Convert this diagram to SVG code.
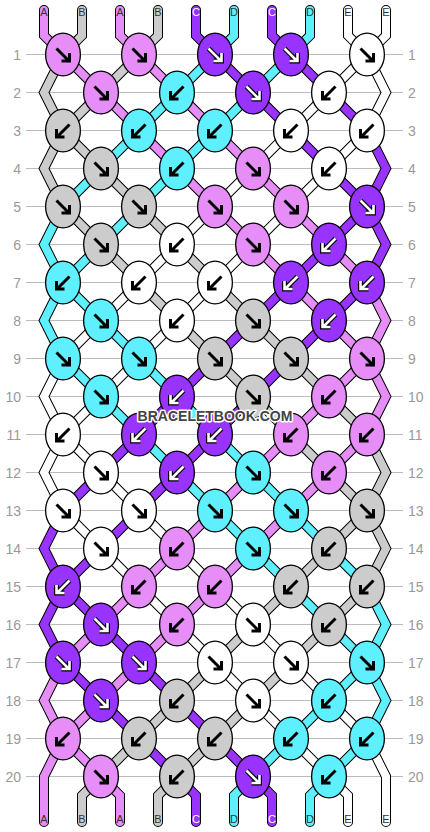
<svg xmlns="http://www.w3.org/2000/svg" xmlns:xlink="http://www.w3.org/1999/xlink" width="430" height="832" viewBox="0 0 430 832">
<style>
.grid line{stroke:#bbb;stroke-width:1}
.rl{font-family:"Liberation Sans",Arial,sans-serif;font-size:14px;fill:#999}
.rl.l{text-anchor:end}
.so,.sA,.sB,.sC,.sD,.sE{fill:none;stroke-linejoin:miter;stroke-linecap:round}
.so{stroke:#000;stroke-width:10}
.sA{stroke:#e68df7;stroke-width:8}
.sB{stroke:#cccccc;stroke-width:8}
.sC{stroke:#9933ff;stroke-width:8}
.sD{stroke:#5ef0ff;stroke-width:8}
.sE{stroke:#ffffff;stroke-width:8}
ellipse{stroke:#000;stroke-width:1.3}
.kA{fill:#e68df7}.kB{fill:#cccccc}.kC{fill:#9933ff}.kD{fill:#5ef0ff}.kE{fill:#ffffff}
.ak{fill:none;stroke:#000;stroke-width:3;stroke-linejoin:miter}
.ao{fill:none;stroke:#000;stroke-width:5;stroke-linejoin:miter}
.aw{fill:none;stroke:#fff;stroke-width:2.6;stroke-linejoin:miter}
.sl{font-family:"Liberation Sans",Arial,sans-serif;font-size:11px;text-anchor:middle;fill:#333}
.sl.w{fill:#fff}
.wm{font-family:"Liberation Sans",Arial,sans-serif;font-size:14px;font-weight:bold;text-anchor:middle;fill:#444;stroke:#fff;stroke-width:3;paint-order:stroke;stroke-linejoin:round}
</style>
<defs>
<path id="aR" d="M-6.5,-6L6,6.5M-1.5,6.5H6.5V-1.5"/>
<path id="aL" d="M6.5,-6L-6,6.5M1.5,6.5H-6.5V-1.5"/>
<g id="wR"><use href="#aR" class="ao"/><use href="#aR" class="aw"/></g>
<g id="wL"><use href="#aL" class="ao"/><use href="#aL" class="aw"/></g>
<polyline id="p0" points="44,10 44,35.5 63,54.5 101,92.5 139,130.5 177,168.5 215,206.5 253,244.5 291,282.5 329,320.5 367,358.5 386,396.5 367,434.5 329,472.5 291,510.5 253,548.5 215,586.5 177,624.5 139,662.5 101,700.5 63,738.5 44,776.5 44,822"/>
<polyline id="p1" points="82,10 82,35.5 63,54.5 44,92.5 63,130.5 101,168.5 139,206.5 177,244.5 215,282.5 253,320.5 291,358.5 329,396.5 367,434.5 386,472.5 367,510.5 329,548.5 291,586.5 253,624.5 215,662.5 177,700.5 139,738.5 101,776.5 82,795.5 82,822"/>
<polyline id="p2" points="120,10 120,35.5 139,54.5 177,92.5 215,130.5 253,168.5 291,206.5 329,244.5 367,282.5 386,320.5 367,358.5 329,396.5 291,434.5 253,472.5 215,510.5 177,548.5 139,586.5 101,624.5 63,662.5 44,700.5 63,738.5 101,776.5 120,795.5 120,822"/>
<polyline id="p3" points="158,10 158,35.5 139,54.5 101,92.5 63,130.5 44,168.5 63,206.5 101,244.5 139,282.5 177,320.5 215,358.5 253,396.5 291,434.5 329,472.5 367,510.5 386,548.5 367,586.5 329,624.5 291,662.5 253,700.5 215,738.5 177,776.5 158,795.5 158,822"/>
<polyline id="p4" points="196,10 196,35.5 215,54.5 253,92.5 291,130.5 329,168.5 367,206.5 386,244.5 367,282.5 329,320.5 291,358.5 253,396.5 215,434.5 177,472.5 139,510.5 101,548.5 63,586.5 44,624.5 63,662.5 101,700.5 139,738.5 177,776.5 196,795.5 196,822"/>
<polyline id="p5" points="234,10 234,35.5 215,54.5 177,92.5 139,130.5 101,168.5 63,206.5 44,244.5 63,282.5 101,320.5 139,358.5 177,396.5 215,434.5 253,472.5 291,510.5 329,548.5 367,586.5 386,624.5 367,662.5 329,700.5 291,738.5 253,776.5 234,795.5 234,822"/>
<polyline id="p6" points="272,10 272,35.5 291,54.5 329,92.5 367,130.5 386,168.5 367,206.5 329,244.5 291,282.5 253,320.5 215,358.5 177,396.5 139,434.5 101,472.5 63,510.5 44,548.5 63,586.5 101,624.5 139,662.5 177,700.5 215,738.5 253,776.5 272,795.5 272,822"/>
<polyline id="p7" points="310,10 310,35.5 291,54.5 253,92.5 215,130.5 177,168.5 139,206.5 101,244.5 63,282.5 44,320.5 63,358.5 101,396.5 139,434.5 177,472.5 215,510.5 253,548.5 291,586.5 329,624.5 367,662.5 386,700.5 367,738.5 329,776.5 310,795.5 310,822"/>
<polyline id="p8" points="348,10 348,35.5 367,54.5 386,92.5 367,130.5 329,168.5 291,206.5 253,244.5 215,282.5 177,320.5 139,358.5 101,396.5 63,434.5 44,472.5 63,510.5 101,548.5 139,586.5 177,624.5 215,662.5 253,700.5 291,738.5 329,776.5 348,795.5 348,822"/>
<polyline id="p9" points="386,10 386,35.5 367,54.5 329,92.5 291,130.5 253,168.5 215,206.5 177,244.5 139,282.5 101,320.5 63,358.5 44,396.5 63,434.5 101,472.5 139,510.5 177,548.5 215,586.5 253,624.5 291,662.5 329,700.5 367,738.5 386,776.5 386,822"/>
</defs>
<g id="grid" class="grid">
<line x1="26" y1="54.5" x2="403" y2="54.5"/><line x1="26" y1="92.5" x2="403" y2="92.5"/><line x1="26" y1="130.5" x2="403" y2="130.5"/><line x1="26" y1="168.5" x2="403" y2="168.5"/><line x1="26" y1="206.5" x2="403" y2="206.5"/>
<line x1="26" y1="244.5" x2="403" y2="244.5"/><line x1="26" y1="282.5" x2="403" y2="282.5"/><line x1="26" y1="320.5" x2="403" y2="320.5"/><line x1="26" y1="358.5" x2="403" y2="358.5"/><line x1="26" y1="396.5" x2="403" y2="396.5"/>
<line x1="26" y1="434.5" x2="403" y2="434.5"/><line x1="26" y1="472.5" x2="403" y2="472.5"/><line x1="26" y1="510.5" x2="403" y2="510.5"/><line x1="26" y1="548.5" x2="403" y2="548.5"/><line x1="26" y1="586.5" x2="403" y2="586.5"/>
<line x1="26" y1="624.5" x2="403" y2="624.5"/><line x1="26" y1="662.5" x2="403" y2="662.5"/><line x1="26" y1="700.5" x2="403" y2="700.5"/><line x1="26" y1="738.5" x2="403" y2="738.5"/><line x1="26" y1="776.5" x2="403" y2="776.5"/>
</g>
<g id="row-labels">
<text class="rl l" x="21" y="59.5">1</text><text class="rl" x="408" y="59.5">1</text>
<text class="rl l" x="21" y="97.5">2</text><text class="rl" x="408" y="97.5">2</text>
<text class="rl l" x="21" y="135.5">3</text><text class="rl" x="408" y="135.5">3</text>
<text class="rl l" x="21" y="173.5">4</text><text class="rl" x="408" y="173.5">4</text>
<text class="rl l" x="21" y="211.5">5</text><text class="rl" x="408" y="211.5">5</text>
<text class="rl l" x="21" y="249.5">6</text><text class="rl" x="408" y="249.5">6</text>
<text class="rl l" x="21" y="287.5">7</text><text class="rl" x="408" y="287.5">7</text>
<text class="rl l" x="21" y="325.5">8</text><text class="rl" x="408" y="325.5">8</text>
<text class="rl l" x="21" y="363.5">9</text><text class="rl" x="408" y="363.5">9</text>
<text class="rl l" x="21" y="401.5">10</text><text class="rl" x="408" y="401.5">10</text>
<text class="rl l" x="21" y="439.5">11</text><text class="rl" x="408" y="439.5">11</text>
<text class="rl l" x="21" y="477.5">12</text><text class="rl" x="408" y="477.5">12</text>
<text class="rl l" x="21" y="515.5">13</text><text class="rl" x="408" y="515.5">13</text>
<text class="rl l" x="21" y="553.5">14</text><text class="rl" x="408" y="553.5">14</text>
<text class="rl l" x="21" y="591.5">15</text><text class="rl" x="408" y="591.5">15</text>
<text class="rl l" x="21" y="629.5">16</text><text class="rl" x="408" y="629.5">16</text>
<text class="rl l" x="21" y="667.5">17</text><text class="rl" x="408" y="667.5">17</text>
<text class="rl l" x="21" y="705.5">18</text><text class="rl" x="408" y="705.5">18</text>
<text class="rl l" x="21" y="743.5">19</text><text class="rl" x="408" y="743.5">19</text>
<text class="rl l" x="21" y="781.5">20</text><text class="rl" x="408" y="781.5">20</text>
</g>
<g id="connectors">
<use href="#p0" class="so"/><use href="#p1" class="so"/><use href="#p2" class="so"/><use href="#p3" class="so"/><use href="#p4" class="so"/><use href="#p5" class="so"/><use href="#p6" class="so"/><use href="#p7" class="so"/><use href="#p8" class="so"/><use href="#p9" class="so"/>
<use href="#p0" class="sA"/><use href="#p1" class="sB"/><use href="#p2" class="sA"/><use href="#p3" class="sB"/><use href="#p4" class="sC"/><use href="#p5" class="sD"/><use href="#p6" class="sC"/><use href="#p7" class="sD"/><use href="#p8" class="sE"/><use href="#p9" class="sE"/>
</g>
<g id="string-labels">
<text class="sl" x="44" y="16.3">A</text><text class="sl" x="82" y="16.3">B</text><text class="sl" x="120" y="16.3">A</text><text class="sl" x="158" y="16.3">B</text><text class="sl w" x="196" y="16.3">C</text><text class="sl" x="234" y="16.3">D</text><text class="sl w" x="272" y="16.3">C</text><text class="sl" x="310" y="16.3">D</text><text class="sl" x="348" y="16.3">E</text><text class="sl" x="386" y="16.3">E</text>
<text class="sl" x="44" y="823.3">A</text><text class="sl" x="82" y="823.3">B</text><text class="sl" x="120" y="823.3">A</text><text class="sl" x="158" y="823.3">B</text><text class="sl w" x="196" y="823.3">C</text><text class="sl" x="234" y="823.3">D</text><text class="sl w" x="272" y="823.3">C</text><text class="sl" x="310" y="823.3">D</text><text class="sl" x="348" y="823.3">E</text><text class="sl" x="386" y="823.3">E</text>
</g>
<g id="knots">
<g id="r1k1"><ellipse class="kA" cx="63" cy="54.5" rx="17.4" ry="21.4"/><use href="#aR" class="ak" x="63" y="54.5"/></g>
<g id="r1k2"><ellipse class="kA" cx="139" cy="54.5" rx="17.4" ry="21.4"/><use href="#aR" class="ak" x="139" y="54.5"/></g>
<g id="r1k3"><ellipse class="kC" cx="215" cy="54.5" rx="17.4" ry="21.4"/><use href="#wR" x="215" y="54.5"/></g>
<g id="r1k4"><ellipse class="kC" cx="291" cy="54.5" rx="17.4" ry="21.4"/><use href="#wR" x="291" y="54.5"/></g>
<g id="r1k5"><ellipse class="kE" cx="367" cy="54.5" rx="17.4" ry="21.4"/><use href="#aR" class="ak" x="367" y="54.5"/></g>
<g id="r2k1"><ellipse class="kA" cx="101" cy="92.5" rx="17.4" ry="21.4"/><use href="#aR" class="ak" x="101" y="92.5"/></g>
<g id="r2k2"><ellipse class="kD" cx="177" cy="92.5" rx="17.4" ry="21.4"/><use href="#aL" class="ak" x="177" y="92.5"/></g>
<g id="r2k3"><ellipse class="kC" cx="253" cy="92.5" rx="17.4" ry="21.4"/><use href="#wR" x="253" y="92.5"/></g>
<g id="r2k4"><ellipse class="kE" cx="329" cy="92.5" rx="17.4" ry="21.4"/><use href="#aL" class="ak" x="329" y="92.5"/></g>
<g id="r3k1"><ellipse class="kB" cx="63" cy="130.5" rx="17.4" ry="21.4"/><use href="#aL" class="ak" x="63" y="130.5"/></g>
<g id="r3k2"><ellipse class="kD" cx="139" cy="130.5" rx="17.4" ry="21.4"/><use href="#aL" class="ak" x="139" y="130.5"/></g>
<g id="r3k3"><ellipse class="kD" cx="215" cy="130.5" rx="17.4" ry="21.4"/><use href="#aL" class="ak" x="215" y="130.5"/></g>
<g id="r3k4"><ellipse class="kE" cx="291" cy="130.5" rx="17.4" ry="21.4"/><use href="#aL" class="ak" x="291" y="130.5"/></g>
<g id="r3k5"><ellipse class="kE" cx="367" cy="130.5" rx="17.4" ry="21.4"/><use href="#aL" class="ak" x="367" y="130.5"/></g>
<g id="r4k1"><ellipse class="kB" cx="101" cy="168.5" rx="17.4" ry="21.4"/><use href="#aR" class="ak" x="101" y="168.5"/></g>
<g id="r4k2"><ellipse class="kD" cx="177" cy="168.5" rx="17.4" ry="21.4"/><use href="#aL" class="ak" x="177" y="168.5"/></g>
<g id="r4k3"><ellipse class="kA" cx="253" cy="168.5" rx="17.4" ry="21.4"/><use href="#aR" class="ak" x="253" y="168.5"/></g>
<g id="r4k4"><ellipse class="kE" cx="329" cy="168.5" rx="17.4" ry="21.4"/><use href="#aL" class="ak" x="329" y="168.5"/></g>
<g id="r5k1"><ellipse class="kB" cx="63" cy="206.5" rx="17.4" ry="21.4"/><use href="#aR" class="ak" x="63" y="206.5"/></g>
<g id="r5k2"><ellipse class="kB" cx="139" cy="206.5" rx="17.4" ry="21.4"/><use href="#aR" class="ak" x="139" y="206.5"/></g>
<g id="r5k3"><ellipse class="kA" cx="215" cy="206.5" rx="17.4" ry="21.4"/><use href="#aR" class="ak" x="215" y="206.5"/></g>
<g id="r5k4"><ellipse class="kA" cx="291" cy="206.5" rx="17.4" ry="21.4"/><use href="#aR" class="ak" x="291" y="206.5"/></g>
<g id="r5k5"><ellipse class="kC" cx="367" cy="206.5" rx="17.4" ry="21.4"/><use href="#wR" x="367" y="206.5"/></g>
<g id="r6k1"><ellipse class="kB" cx="101" cy="244.5" rx="17.4" ry="21.4"/><use href="#aR" class="ak" x="101" y="244.5"/></g>
<g id="r6k2"><ellipse class="kE" cx="177" cy="244.5" rx="17.4" ry="21.4"/><use href="#aL" class="ak" x="177" y="244.5"/></g>
<g id="r6k3"><ellipse class="kA" cx="253" cy="244.5" rx="17.4" ry="21.4"/><use href="#aR" class="ak" x="253" y="244.5"/></g>
<g id="r6k4"><ellipse class="kC" cx="329" cy="244.5" rx="17.4" ry="21.4"/><use href="#wL" x="329" y="244.5"/></g>
<g id="r7k1"><ellipse class="kD" cx="63" cy="282.5" rx="17.4" ry="21.4"/><use href="#aL" class="ak" x="63" y="282.5"/></g>
<g id="r7k2"><ellipse class="kE" cx="139" cy="282.5" rx="17.4" ry="21.4"/><use href="#aL" class="ak" x="139" y="282.5"/></g>
<g id="r7k3"><ellipse class="kE" cx="215" cy="282.5" rx="17.4" ry="21.4"/><use href="#aL" class="ak" x="215" y="282.5"/></g>
<g id="r7k4"><ellipse class="kC" cx="291" cy="282.5" rx="17.4" ry="21.4"/><use href="#wL" x="291" y="282.5"/></g>
<g id="r7k5"><ellipse class="kC" cx="367" cy="282.5" rx="17.4" ry="21.4"/><use href="#wL" x="367" y="282.5"/></g>
<g id="r8k1"><ellipse class="kD" cx="101" cy="320.5" rx="17.4" ry="21.4"/><use href="#aR" class="ak" x="101" y="320.5"/></g>
<g id="r8k2"><ellipse class="kE" cx="177" cy="320.5" rx="17.4" ry="21.4"/><use href="#aL" class="ak" x="177" y="320.5"/></g>
<g id="r8k3"><ellipse class="kB" cx="253" cy="320.5" rx="17.4" ry="21.4"/><use href="#aR" class="ak" x="253" y="320.5"/></g>
<g id="r8k4"><ellipse class="kC" cx="329" cy="320.5" rx="17.4" ry="21.4"/><use href="#wL" x="329" y="320.5"/></g>
<g id="r9k1"><ellipse class="kD" cx="63" cy="358.5" rx="17.4" ry="21.4"/><use href="#aR" class="ak" x="63" y="358.5"/></g>
<g id="r9k2"><ellipse class="kD" cx="139" cy="358.5" rx="17.4" ry="21.4"/><use href="#aR" class="ak" x="139" y="358.5"/></g>
<g id="r9k3"><ellipse class="kB" cx="215" cy="358.5" rx="17.4" ry="21.4"/><use href="#aR" class="ak" x="215" y="358.5"/></g>
<g id="r9k4"><ellipse class="kB" cx="291" cy="358.5" rx="17.4" ry="21.4"/><use href="#aR" class="ak" x="291" y="358.5"/></g>
<g id="r9k5"><ellipse class="kA" cx="367" cy="358.5" rx="17.4" ry="21.4"/><use href="#aR" class="ak" x="367" y="358.5"/></g>
<g id="r10k1"><ellipse class="kD" cx="101" cy="396.5" rx="17.4" ry="21.4"/><use href="#aR" class="ak" x="101" y="396.5"/></g>
<g id="r10k2"><ellipse class="kC" cx="177" cy="396.5" rx="17.4" ry="21.4"/><use href="#wL" x="177" y="396.5"/></g>
<g id="r10k3"><ellipse class="kB" cx="253" cy="396.5" rx="17.4" ry="21.4"/><use href="#aR" class="ak" x="253" y="396.5"/></g>
<g id="r10k4"><ellipse class="kA" cx="329" cy="396.5" rx="17.4" ry="21.4"/><use href="#aL" class="ak" x="329" y="396.5"/></g>
<g id="r11k1"><ellipse class="kE" cx="63" cy="434.5" rx="17.4" ry="21.4"/><use href="#aL" class="ak" x="63" y="434.5"/></g>
<g id="r11k2"><ellipse class="kC" cx="139" cy="434.5" rx="17.4" ry="21.4"/><use href="#wL" x="139" y="434.5"/></g>
<g id="r11k3"><ellipse class="kC" cx="215" cy="434.5" rx="17.4" ry="21.4"/><use href="#wL" x="215" y="434.5"/></g>
<g id="r11k4"><ellipse class="kA" cx="291" cy="434.5" rx="17.4" ry="21.4"/><use href="#aL" class="ak" x="291" y="434.5"/></g>
<g id="r11k5"><ellipse class="kA" cx="367" cy="434.5" rx="17.4" ry="21.4"/><use href="#aL" class="ak" x="367" y="434.5"/></g>
<g id="r12k1"><ellipse class="kE" cx="101" cy="472.5" rx="17.4" ry="21.4"/><use href="#aR" class="ak" x="101" y="472.5"/></g>
<g id="r12k2"><ellipse class="kC" cx="177" cy="472.5" rx="17.4" ry="21.4"/><use href="#wL" x="177" y="472.5"/></g>
<g id="r12k3"><ellipse class="kD" cx="253" cy="472.5" rx="17.4" ry="21.4"/><use href="#aR" class="ak" x="253" y="472.5"/></g>
<g id="r12k4"><ellipse class="kA" cx="329" cy="472.5" rx="17.4" ry="21.4"/><use href="#aL" class="ak" x="329" y="472.5"/></g>
<g id="r13k1"><ellipse class="kE" cx="63" cy="510.5" rx="17.4" ry="21.4"/><use href="#aR" class="ak" x="63" y="510.5"/></g>
<g id="r13k2"><ellipse class="kE" cx="139" cy="510.5" rx="17.4" ry="21.4"/><use href="#aR" class="ak" x="139" y="510.5"/></g>
<g id="r13k3"><ellipse class="kD" cx="215" cy="510.5" rx="17.4" ry="21.4"/><use href="#aR" class="ak" x="215" y="510.5"/></g>
<g id="r13k4"><ellipse class="kD" cx="291" cy="510.5" rx="17.4" ry="21.4"/><use href="#aR" class="ak" x="291" y="510.5"/></g>
<g id="r13k5"><ellipse class="kB" cx="367" cy="510.5" rx="17.4" ry="21.4"/><use href="#aR" class="ak" x="367" y="510.5"/></g>
<g id="r14k1"><ellipse class="kE" cx="101" cy="548.5" rx="17.4" ry="21.4"/><use href="#aR" class="ak" x="101" y="548.5"/></g>
<g id="r14k2"><ellipse class="kA" cx="177" cy="548.5" rx="17.4" ry="21.4"/><use href="#aL" class="ak" x="177" y="548.5"/></g>
<g id="r14k3"><ellipse class="kD" cx="253" cy="548.5" rx="17.4" ry="21.4"/><use href="#aR" class="ak" x="253" y="548.5"/></g>
<g id="r14k4"><ellipse class="kB" cx="329" cy="548.5" rx="17.4" ry="21.4"/><use href="#aL" class="ak" x="329" y="548.5"/></g>
<g id="r15k1"><ellipse class="kC" cx="63" cy="586.5" rx="17.4" ry="21.4"/><use href="#wL" x="63" y="586.5"/></g>
<g id="r15k2"><ellipse class="kA" cx="139" cy="586.5" rx="17.4" ry="21.4"/><use href="#aL" class="ak" x="139" y="586.5"/></g>
<g id="r15k3"><ellipse class="kA" cx="215" cy="586.5" rx="17.4" ry="21.4"/><use href="#aL" class="ak" x="215" y="586.5"/></g>
<g id="r15k4"><ellipse class="kB" cx="291" cy="586.5" rx="17.4" ry="21.4"/><use href="#aL" class="ak" x="291" y="586.5"/></g>
<g id="r15k5"><ellipse class="kB" cx="367" cy="586.5" rx="17.4" ry="21.4"/><use href="#aL" class="ak" x="367" y="586.5"/></g>
<g id="r16k1"><ellipse class="kC" cx="101" cy="624.5" rx="17.4" ry="21.4"/><use href="#wR" x="101" y="624.5"/></g>
<g id="r16k2"><ellipse class="kA" cx="177" cy="624.5" rx="17.4" ry="21.4"/><use href="#aL" class="ak" x="177" y="624.5"/></g>
<g id="r16k3"><ellipse class="kE" cx="253" cy="624.5" rx="17.4" ry="21.4"/><use href="#aR" class="ak" x="253" y="624.5"/></g>
<g id="r16k4"><ellipse class="kB" cx="329" cy="624.5" rx="17.4" ry="21.4"/><use href="#aL" class="ak" x="329" y="624.5"/></g>
<g id="r17k1"><ellipse class="kC" cx="63" cy="662.5" rx="17.4" ry="21.4"/><use href="#wR" x="63" y="662.5"/></g>
<g id="r17k2"><ellipse class="kC" cx="139" cy="662.5" rx="17.4" ry="21.4"/><use href="#wR" x="139" y="662.5"/></g>
<g id="r17k3"><ellipse class="kE" cx="215" cy="662.5" rx="17.4" ry="21.4"/><use href="#aR" class="ak" x="215" y="662.5"/></g>
<g id="r17k4"><ellipse class="kE" cx="291" cy="662.5" rx="17.4" ry="21.4"/><use href="#aR" class="ak" x="291" y="662.5"/></g>
<g id="r17k5"><ellipse class="kD" cx="367" cy="662.5" rx="17.4" ry="21.4"/><use href="#aR" class="ak" x="367" y="662.5"/></g>
<g id="r18k1"><ellipse class="kC" cx="101" cy="700.5" rx="17.4" ry="21.4"/><use href="#wR" x="101" y="700.5"/></g>
<g id="r18k2"><ellipse class="kB" cx="177" cy="700.5" rx="17.4" ry="21.4"/><use href="#aL" class="ak" x="177" y="700.5"/></g>
<g id="r18k3"><ellipse class="kE" cx="253" cy="700.5" rx="17.4" ry="21.4"/><use href="#aR" class="ak" x="253" y="700.5"/></g>
<g id="r18k4"><ellipse class="kD" cx="329" cy="700.5" rx="17.4" ry="21.4"/><use href="#aL" class="ak" x="329" y="700.5"/></g>
<g id="r19k1"><ellipse class="kA" cx="63" cy="738.5" rx="17.4" ry="21.4"/><use href="#aL" class="ak" x="63" y="738.5"/></g>
<g id="r19k2"><ellipse class="kB" cx="139" cy="738.5" rx="17.4" ry="21.4"/><use href="#aL" class="ak" x="139" y="738.5"/></g>
<g id="r19k3"><ellipse class="kB" cx="215" cy="738.5" rx="17.4" ry="21.4"/><use href="#aL" class="ak" x="215" y="738.5"/></g>
<g id="r19k4"><ellipse class="kD" cx="291" cy="738.5" rx="17.4" ry="21.4"/><use href="#aL" class="ak" x="291" y="738.5"/></g>
<g id="r19k5"><ellipse class="kD" cx="367" cy="738.5" rx="17.4" ry="21.4"/><use href="#aL" class="ak" x="367" y="738.5"/></g>
<g id="r20k1"><ellipse class="kA" cx="101" cy="776.5" rx="17.4" ry="21.4"/><use href="#aR" class="ak" x="101" y="776.5"/></g>
<g id="r20k2"><ellipse class="kB" cx="177" cy="776.5" rx="17.4" ry="21.4"/><use href="#aL" class="ak" x="177" y="776.5"/></g>
<g id="r20k3"><ellipse class="kC" cx="253" cy="776.5" rx="17.4" ry="21.4"/><use href="#wR" x="253" y="776.5"/></g>
<g id="r20k4"><ellipse class="kD" cx="329" cy="776.5" rx="17.4" ry="21.4"/><use href="#aL" class="ak" x="329" y="776.5"/></g>
</g>
<text id="watermark" class="wm" x="215" y="420.5">BRACELETBOOK.COM</text>
</svg>
